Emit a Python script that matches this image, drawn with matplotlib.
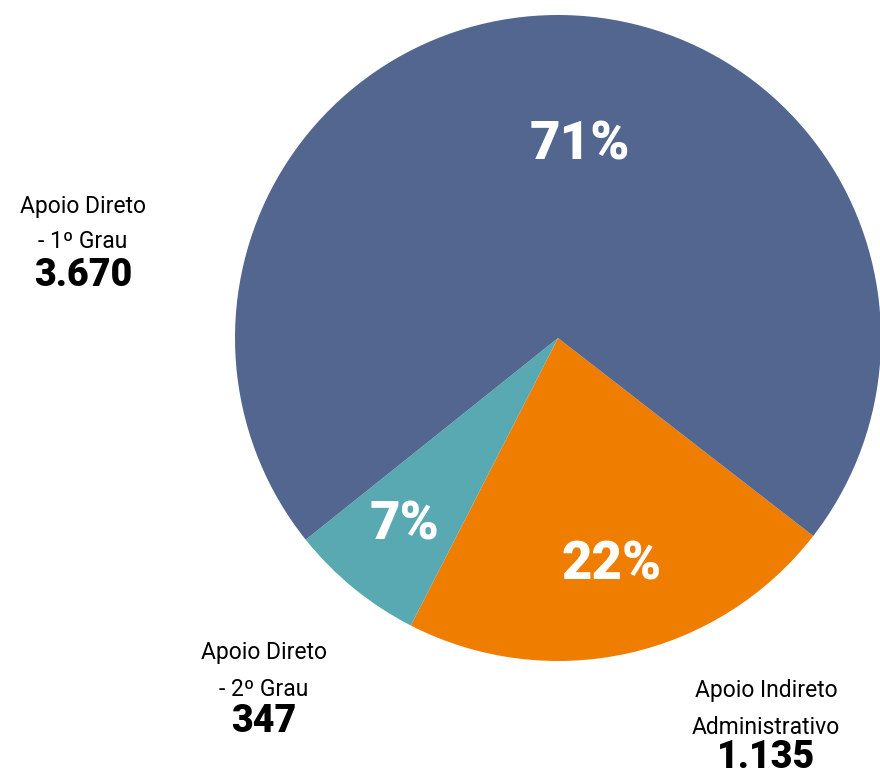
import matplotlib
matplotlib.use('Agg')
import matplotlib.pyplot as plt

# dados
categorias = ["Apoio Indireto\nAdministrativo", "Apoio Direto\n- 2º Grau", "Apoio Direto\n- 1º Grau"]
valores = [1135, 347, 3670]
valores_txt = ["1.135", "347", "3.670"]
percentuais = ["22%", "7%", "71%"]
cores = ["#EE7D00", "#58A9B2", "#536690"]

W, H = 880, 776
fig = plt.figure(figsize=(W / 100, H / 100), dpi=100)

# pie axes: centro (558, 338), raio 323 px
cx, cy, r = 558, 338, 323
ax = fig.add_axes([(cx - r) / W, (H - cy - r) / H, 2 * r / W, 2 * r / H])
ax.pie(valores, colors=cores, startangle=-37.8, counterclock=False, radius=1,
       wedgeprops=dict(linewidth=0))
ax.set_xlim(-1, 1)
ax.set_ylim(-1, 1)
ax.set_aspect('equal')
ax.axis('off')

label_font = ['Roboto', 'DejaVu Sans']
num_font = ['Roboto', 'DejaVu Sans']

def fx(x):
    return x / W

def fy(y):
    return 1 - y / H

# percentuais dentro das fatias
pct_pos = [(612, 565), (405, 525), (580, 145)]
for (x, y), p in zip(pct_pos, percentuais):
    fig.text(fx(x), fy(y), p, color="white", fontsize=38, fontweight="black",
             family=num_font, ha="center", va="center")

# rótulos externos
lab_pos = [(766, 690, 727, 758), (264, 653, 690, 722), (83, 207, 242, 275)]
for (x, y1, y2, y3), cat, v in zip(lab_pos, categorias, valores_txt):
    l1, l2 = cat.split("\n")
    fig.text(fx(x), fy(y1), l1, fontsize=16.5, family=label_font, ha="center", va="center")
    fig.text(fx(x), fy(y2), l2, fontsize=16.5, family=label_font, ha="center", va="center")
    fig.text(fx(x), fy(y3), v, fontsize=27, fontweight="black", family=num_font,
             ha="center", va="center")

fig.savefig("out.png", dpi=100)
plt.close(fig)
